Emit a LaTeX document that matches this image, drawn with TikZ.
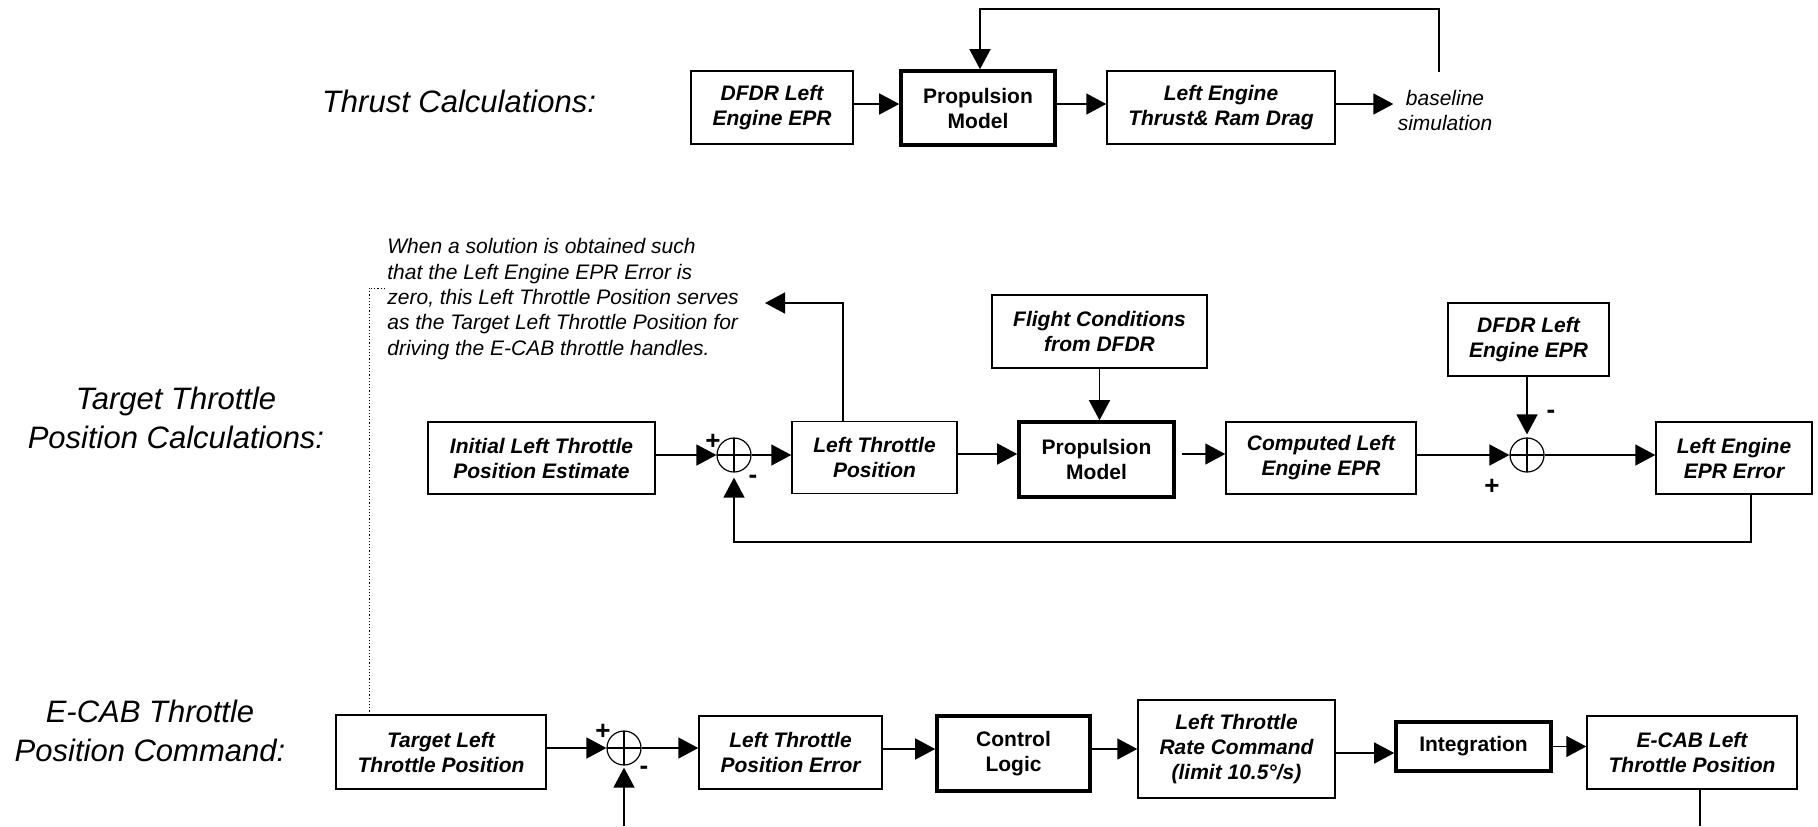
\documentclass[tikz,border=0pt]{standalone}
\usepackage{fontspec}
\setmainfont{Liberation Sans}
\usetikzlibrary{arrows.meta,calc}
\begin{document}
\begin{tikzpicture}[x=0.5pt,y=-0.5pt,
  box/.style={draw,line width=0.75pt,inner sep=0pt,align=center,
    font=\bfseries\itshape\fontsize{10.5}{12.5}\selectfont},
  thickbox/.style={box,line width=1.8pt,font=\bfseries\fontsize{10.5}{12.5}\selectfont},
  arr/.style={line width=0.75pt,-{Triangle[length=10pt,width=10.5pt]}},
  wire/.style={line width=0.75pt},
  dotline/.style={line width=0.5pt,dash pattern=on 0.6pt off 1pt},
  summer/.style={circle,draw,line width=0.6pt,minimum size=17pt,inner sep=0pt,
    path picture={\draw[line width=0.6pt]
      (path picture bounding box.north) -- (path picture bounding box.south)
      (path picture bounding box.west) -- (path picture bounding box.east);}},
  sign/.style={font=\bfseries\fontsize{13}{13}\selectfont,inner sep=0pt},
  section/.style={font=\itshape\fontsize{15.5}{19.5}\selectfont,align=center,inner sep=0pt},
  note/.style={font=\itshape\fontsize{10.5}{12.7}\selectfont,align=left,inner sep=0pt},
]
\useasboundingbox (0,0) rectangle (1818,826);

% ---------- section titles ----------
\node[section] (lab1) at (459,101) {Thrust Calculations:};
\node[section] (lab2) at (176,418) {Target Throttle\\Position Calculations:};
\node[section] (lab3) at (150,731) {E-CAB Throttle\\Position Command:};

% ---------- thrust calculations ----------
\node[box,minimum width=81pt,minimum height=36.5pt] (t1) at (772,107.5) {DFDR Left\\Engine EPR};
\node[thickbox,minimum width=77pt,minimum height=37pt] (t2) at (978,108) {Propulsion\\Model};
\node[box,minimum width=114pt,minimum height=36.5pt] (t3) at (1221,107.5) {Left Engine\\Thrust\& Ram Drag};
\node[font=\itshape\fontsize{10.5}{12.5}\selectfont,align=center,inner sep=2pt] (bs) at (1445,110) {baseline\\simulation};

\coordinate (r1) at (0,104);
\draw[arr] (t1.east |- r1) -- (t2.west |- r1);
\draw[arr] (t2.east |- r1) -- (t3.west |- r1);
\draw[arr] (t3.east |- r1) -- (bs.west |- r1);
\coordinate (fbA) at (1439,72);
\coordinate (fbB) at (1439,9);
\draw[arr] (fbA) -- (fbB) -| ([xshift=1pt]t2.north);

% ---------- target throttle position calculations ----------
\node[note,anchor=west] (note) at (387,299) {When a solution is obtained such\\that the Left Engine EPR Error is\\zero, this Left Throttle Position serves\\as the Target Left Throttle Position for\\driving the E-CAB throttle handles.};

\node[box,minimum width=113.5pt,minimum height=36pt] (c1) at (541.5,458) {Initial Left Throttle\\Position Estimate};
\node[summer] (s1) at (734,455) {};
\node[box,minimum width=82.5pt,minimum height=36pt] (c2) at (874.5,457.5) {Left Throttle\\Position};
\node[thickbox,minimum width=77.5pt,minimum height=37.5pt] (c3) at (1096.5,459.5) {Propulsion\\Model};
\node[box,minimum width=107.5pt,minimum height=36.5pt] (c4) at (1099.5,331.5) {Flight Conditions\\from DFDR};
\node[box,minimum width=95pt,minimum height=36pt] (c5) at (1321,458) {Computed Left\\Engine EPR};
\node[summer] (s2) at (1527,455) {};
\node[box,minimum width=80.5pt,minimum height=36.5pt] (c6) at (1528.5,339.5) {DFDR Left\\Engine EPR};
\node[box,minimum width=78pt,minimum height=36pt] (c7) at (1734,458) {Left Engine\\EPR Error};

\node[sign] (p1) at (713,442) {+};
\node[sign] (m1) at (753,479) {-};
\node[sign] (m2) at (1551,414) {-};
\node[sign] (p2) at (1492,487) {+};

\coordinate (r2) at (0,454);
\draw[arr] (c1.east |- s1) -- (s1.west);
\draw[arr] (s1.east) -- (c2.west |- s1);
\draw[arr] (c2.east |- r2) -- (c3.west |- r2);
\draw[arr] ($(c3.east |- r2)+(6,0)$) -- (c5.west |- r2);
\draw[arr] (c4.south) -- (c4.south |- c3.north);
\draw[arr] (c5.east |- s2) -- (s2.west);
\draw[arr] (s2.north |- c6.south) -- ([yshift=1.5pt]s2.north);
\draw[arr] (s2.east) -- (c7.west |- s2);
\coordinate (noteTip) at (765,303);
\draw[arr] ([xshift=-15.75pt]c2.north) |- (noteTip);
\coordinate (fbLow) at (734,542);
\draw[arr] ([xshift=8.5pt]c7.south) |- (fbLow) -- ([yshift=-2.5pt]s1.south);

% ---------- e-cab throttle position command ----------
\node[box,minimum width=105pt,minimum height=37pt] (b1) at (441,752) {Target Left\\Throttle Position};
\node[summer] (s3) at (624,748) {};
\node[box,minimum width=91.5pt,minimum height=36.5pt] (b2) at (790.5,752.5) {Left Throttle\\Position Error};
\node[thickbox,minimum width=76.5pt,minimum height=37.5pt] (b3) at (1013.5,753.5) {Control\\Logic};
\node[box,minimum width=98.5pt,minimum height=49pt] (b4) at (1236.5,749) {Left Throttle\\Rate Command\\(limit 10.5°/s)};
\node[thickbox,minimum width=77.5pt,minimum height=24.5pt] (b5) at (1473.5,746.5) {Integration};
\node[box,minimum width=105pt,minimum height=36.5pt] (b6) at (1692,752.5) {E-CAB Left\\Throttle Position};

\node[sign] (p3) at (603,732) {+};
\node[sign] (m3) at (644,770) {-};

\coordinate (r3) at (0,749);
\coordinate (r3b) at (0,753);
\draw[arr] (b1.east |- s3) -- (s3.west);
\draw[arr] (s3.east) -- (b2.west |- s3);
\draw[arr] (b2.east |- r3) -- (b3.west |- r3);
\draw[arr] (b3.east |- r3) -- (b4.west |- r3);
\draw[arr] (b4.east |- r3b) -- (b5.west |- r3b);
\draw[arr] (b5.east) -- (b6.west |- b5.east);
\coordinate (botL) at (624,826);
\coordinate (botR) at (1700,826);
\draw[arr] (botL) -- ([yshift=-1pt]s3.south);
\draw[wire] ([xshift=4pt]b6.south) -- (botR);

% dotted link from the note down to the target position block
\coordinate (dotA) at (385,288);
\coordinate (dotB) at (369,288);
\draw[dotline] (dotA) -- (dotB) -- ([xshift=-36pt]b1.north);
\end{tikzpicture}
\end{document}
